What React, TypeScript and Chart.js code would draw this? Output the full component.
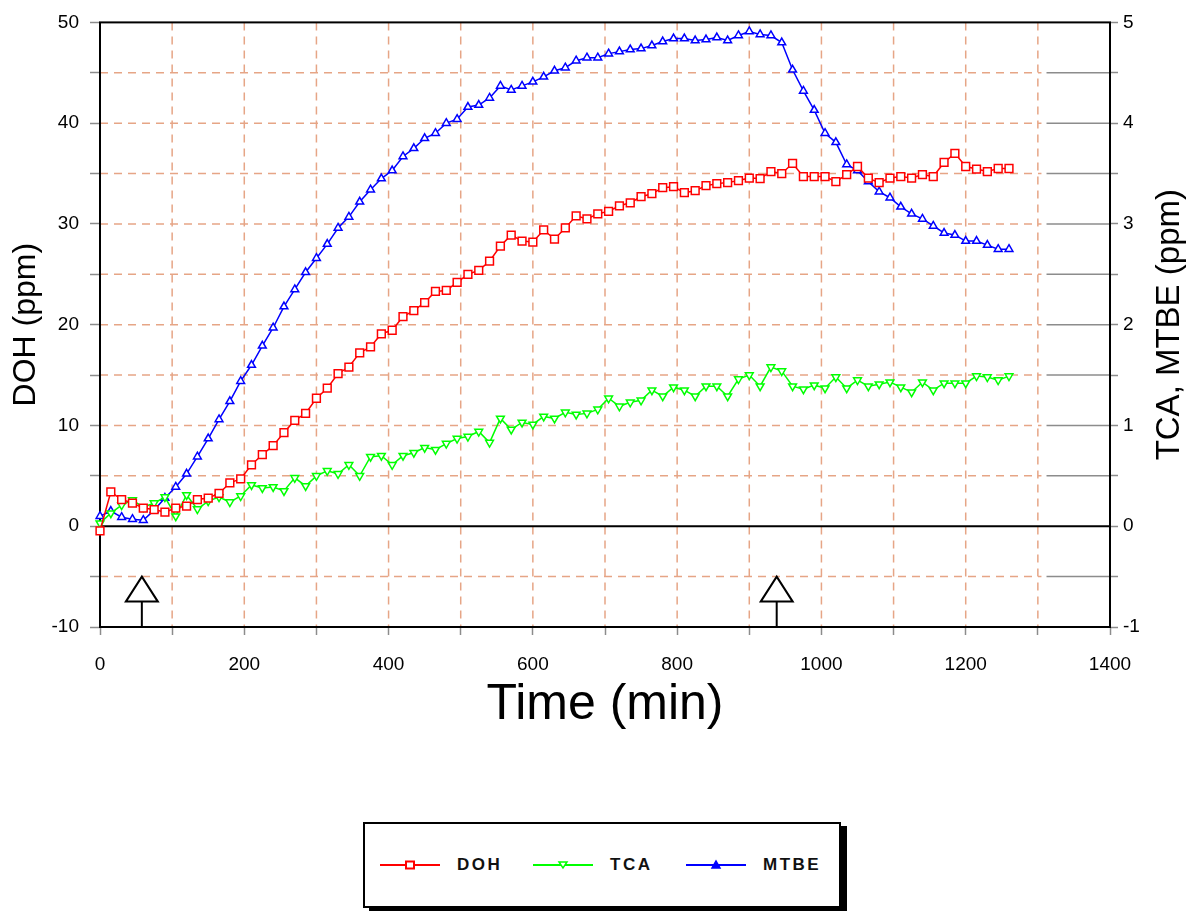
import { useEffect, useRef } from "react";
import { Chart, registerables } from "chart.js";

Chart.register(...registerables);

const FONT = '"Liberation Sans", Arial, sans-serif';
const GRID_COLOR = "#e6a586";
const TICK_COLOR = "#8c8c8c";

// sampling times (min)
const times = [
  0, 15, 30, 45, 60, 75, 90, 105, 120, 135, 150, 165, 180, 195, 210, 225, 240, 255, 270, 285, 300,
  315, 330, 345, 360, 375, 390, 405, 420, 435, 450, 465, 480, 495, 510, 525, 540, 555, 570, 585,
  600, 615, 630, 645, 660, 675, 690, 705, 720, 735, 750, 765, 780, 795, 810, 825, 840, 855, 870,
  885, 900, 915, 930, 945, 960, 975, 990, 1005, 1020, 1035, 1050, 1065, 1080, 1095, 1110, 1125,
  1140, 1155, 1170, 1185, 1200, 1215, 1230, 1245, 1260,
];

// left axis, ppm
const doh = [
  -0.45, 3.4, 2.65, 2.3, 1.8, 1.65, 1.4, 1.8, 2.0, 2.65,
  2.8, 3.25, 4.3, 4.7, 6.1, 7.1, 8.0, 9.3, 10.5, 11.2,
  12.7, 13.7, 15.15, 15.8, 17.2, 17.8, 19.1, 19.45, 20.8, 21.4,
  22.2, 23.3, 23.4, 24.2, 25.0, 25.4, 26.3, 27.8, 28.9, 28.3,
  28.2, 29.4, 28.5, 29.6, 30.8, 30.5, 31.0, 31.25, 31.8, 32.1,
  32.7, 33.0, 33.6, 33.7, 33.1, 33.3, 33.8, 34.0, 34.1, 34.3,
  34.55, 34.5, 35.2, 35.0, 36.0, 34.7, 34.7, 34.7, 34.2, 34.9,
  35.7, 34.55, 34.1, 34.55, 34.7, 34.55, 34.9, 34.7, 36.1, 37.0,
  35.7, 35.45, 35.2, 35.5, 35.5,
];

// right axis, ppm
const tca = [
  0.03, 0.13, 0.21, 0.26, 0.19, 0.23, 0.29, 0.1, 0.31, 0.17,
  0.25, 0.29, 0.24, 0.3, 0.41, 0.38, 0.39, 0.35, 0.48, 0.4,
  0.5, 0.55, 0.52, 0.61, 0.5, 0.69, 0.7, 0.61, 0.7, 0.73,
  0.78, 0.76, 0.82, 0.87, 0.89, 0.94, 0.83, 1.07, 0.96, 1.03,
  1.01, 1.09, 1.07, 1.13, 1.11, 1.12, 1.16, 1.27, 1.19, 1.23,
  1.25, 1.35, 1.29, 1.38, 1.35, 1.29, 1.39, 1.39, 1.29, 1.46,
  1.5, 1.39, 1.58, 1.54, 1.39, 1.36, 1.4, 1.37, 1.48, 1.37,
  1.45, 1.39, 1.41, 1.43, 1.38, 1.33, 1.43, 1.35, 1.42, 1.42,
  1.42, 1.49, 1.48, 1.45, 1.49,
];

const mtbe = [
  0.1, 0.15, 0.09, 0.07, 0.06, 0.16, 0.28, 0.39, 0.52, 0.69,
  0.87, 1.06, 1.24, 1.44, 1.6, 1.79, 1.97, 2.18, 2.35, 2.52,
  2.66, 2.8, 2.96, 3.07, 3.22, 3.34, 3.45, 3.53, 3.67, 3.75,
  3.85, 3.9, 4.0, 4.04, 4.16, 4.18, 4.25, 4.37, 4.33, 4.37,
  4.41, 4.46, 4.52, 4.55, 4.62, 4.65, 4.65, 4.69, 4.71, 4.73,
  4.74, 4.77, 4.81, 4.84, 4.84, 4.82, 4.83, 4.85, 4.82, 4.87,
  4.91, 4.88, 4.87, 4.8, 4.53, 4.32, 4.13, 3.9, 3.81, 3.59,
  3.53, 3.42, 3.32, 3.26, 3.17, 3.1, 3.05, 2.98, 2.91, 2.89,
  2.83, 2.83, 2.79, 2.75, 2.75,
];

// event markers on the time axis
const arrowTimes = [58, 938];

const RIGHT_TITLE = "TCA, MTBE (ppm)";

const series = [
  { label: "DOH", values: doh, color: "#ff0000", axis: "y", marker: "rect", radius: 5.5, rotation: 0 },
  { label: "TCA", values: tca, color: "#00ff00", axis: "y1", marker: "triangle", radius: 4.5, rotation: 180 },
  { label: "MTBE", values: mtbe, color: "#0000ff", axis: "y1", marker: "triangle", radius: 4.5, rotation: 0 },
];

const framePlugin = {
  id: "frame",
  beforeDatasetsDraw(chart: any) {
    const { ctx, chartArea: area, scales } = chart;
    const x = scales.x;
    const y = scales.y;
    const y1 = scales.y1;
    const seg = (ax: number, ay: number, bx: number, by: number) => {
      ctx.beginPath();
      ctx.moveTo(ax, ay);
      ctx.lineTo(bx, by);
      ctx.stroke();
    };
    const gridEnd = x.getPixelForValue(1305);
    const tickStart = x.getPixelForValue(1312);
    ctx.save();
    ctx.lineWidth = 1.5;
    ctx.strokeStyle = GRID_COLOR;
    ctx.setLineDash([8, 6]);
    x.ticks.forEach((t: any) => {
      if (t.value <= x.min || t.value >= x.max) return;
      const px = x.getPixelForValue(t.value);
      seg(px, area.top, px, area.bottom);
    });
    y.ticks.forEach((t: any) => {
      if (t.value <= y.min || t.value >= y.max || t.value === 0) return;
      const py = y.getPixelForValue(t.value);
      seg(area.left, py, gridEnd, py);
    });
    ctx.setLineDash([]);
    ctx.strokeStyle = TICK_COLOR;
    y1.ticks.forEach((t: any) => {
      if (t.value <= y1.min || t.value >= y1.max || t.value === 0) return;
      const py = y1.getPixelForValue(t.value);
      seg(tickStart, py, area.right, py);
    });
    ctx.strokeStyle = "#000";
    ctx.lineWidth = 2;
    const zero = y.getPixelForValue(0);
    seg(area.left, zero, area.right, zero);
    ctx.strokeRect(area.left, area.top, area.right - area.left, area.bottom - area.top);
    ctx.restore();
  },
  afterDatasetsDraw(chart: any) {
    const { ctx, chartArea: area, scales } = chart;
    ctx.save();
    ctx.strokeStyle = "#000";
    ctx.fillStyle = "#fff";
    ctx.lineWidth = 2;
    arrowTimes.forEach((t) => {
      const px = scales.x.getPixelForValue(t);
      const tip = scales.y.getPixelForValue(-5);
      const base = tip + 25;
      ctx.beginPath();
      ctx.moveTo(px, tip);
      ctx.lineTo(px + 16, base);
      ctx.lineTo(px - 16, base);
      ctx.closePath();
      ctx.fill();
      ctx.stroke();
      ctx.beginPath();
      ctx.moveTo(px, base);
      ctx.lineTo(px, area.bottom);
      ctx.stroke();
    });
    // right axis title reads bottom-to-top, like the left one
    ctx.translate(scales.y1.right - 21, (area.top + area.bottom) / 2);
    ctx.rotate(-Math.PI / 2);
    ctx.fillStyle = "#000";
    ctx.font = `33px ${FONT}`;
    ctx.textAlign = "center";
    ctx.textBaseline = "middle";
    ctx.fillText(RIGHT_TITLE, 0, 0);
    ctx.restore();
  },
};

const tickFont = { family: FONT, size: 19 };

function LegendMark({ color, marker, rotation }: { color: string; marker: string; rotation: number }) {
  return (
    <svg width={60} height={14} style={{ display: "block" }}>
      <line x1={0} y1={7} x2={60} y2={7} stroke={color} strokeWidth={2} />
      {marker === "rect" ? (
        <rect x={26} y={3.5} width={8} height={7} fill="#fff" stroke={color} strokeWidth={2} />
      ) : rotation === 180 ? (
        <polygon points="26,4 34,4 30,10" fill="#fff" stroke={color} strokeWidth={1.5} />
      ) : (
        <polygon points="26,10 34,10 30,3" fill={color} stroke={color} strokeWidth={1.5} />
      )}
    </svg>
  );
}

export default function App() {
  const canvasRef = useRef<HTMLCanvasElement>(null);

  useEffect(() => {
    if (!canvasRef.current) return;
    const chart = new Chart(canvasRef.current, {
      type: "line",
      data: {
        datasets: series.map((s) => ({
          label: s.label,
          data: times.map((t, i) => ({ x: t, y: s.values[i] })),
          yAxisID: s.axis,
          borderColor: s.color,
          backgroundColor: "#fff",
          borderWidth: 1.5,
          pointStyle: s.marker,
          pointRadius: s.radius,
          pointRotation: s.rotation,
          pointBorderWidth: 1.5,
          pointBorderColor: s.color,
          pointBackgroundColor: "#fff",
          tension: 0,
          clip: false,
        })),
      },
      options: {
        responsive: false,
        animation: false,
        layout: { padding: { top: 22, left: 0, right: 0, bottom: 0 } },
        plugins: { legend: { display: false }, tooltip: { enabled: false } },
        scales: {
          x: {
            type: "linear",
            min: 0,
            max: 1400,
            afterFit: (s: any) => {
              s.height = 133;
            },
            ticks: {
              stepSize: 100,
              autoSkip: false,
              maxRotation: 0,
              padding: 18,
              color: "#000",
              font: tickFont,
              callback: (v: any) => (Number(v) % 200 === 0 ? String(v) : ""),
            },
            grid: { drawOnChartArea: false, tickLength: 8, tickColor: TICK_COLOR, tickWidth: 1.5 },
            border: { display: false },
            title: {
              display: true,
              text: "Time (min)",
              color: "#000",
              font: { family: FONT, size: 50 },
              padding: { top: 0, bottom: 25 },
            },
          },
          y: {
            position: "left",
            min: -10,
            max: 50,
            afterFit: (s: any) => {
              s.width = 100;
            },
            ticks: {
              stepSize: 5,
              padding: 11,
              color: "#000",
              font: tickFont,
              callback: (v: any) => (Number(v) % 10 === 0 ? String(v) : ""),
            },
            grid: { drawOnChartArea: false, tickLength: 10, tickColor: TICK_COLOR, tickWidth: 1.5 },
            border: { display: false },
            title: {
              display: true,
              text: "DOH (ppm)",
              color: "#000",
              font: { family: FONT, size: 32 },
              padding: { top: 7, bottom: 0 },
            },
          },
          y1: {
            position: "right",
            min: -1,
            max: 5,
            afterFit: (s: any) => {
              s.width = 81;
            },
            ticks: {
              stepSize: 0.5,
              padding: 5,
              color: "#000",
              font: tickFont,
              callback: (v: any) => (Number.isInteger(Number(v)) ? String(v) : ""),
            },
            grid: { drawOnChartArea: false, tickLength: 8, tickColor: TICK_COLOR, tickWidth: 1.5 },
            border: { display: false },
            title: { display: false },
          },
        },
      },
      plugins: [framePlugin],
    } as any);
    return () => chart.destroy();
  }, []);

  return (
    <div style={{ position: "absolute", left: 0, top: 0, width: 1191, height: 911, background: "#fff" }}>
      <canvas ref={canvasRef} width={1191} height={760} style={{ display: "block" }} />
      <div
        style={{
          position: "absolute",
          left: 363,
          top: 822,
          width: 474,
          height: 82,
          border: "2px solid #000",
          boxShadow: "6px 4px 0 #000",
          background: "#fff",
        }}
      >
        {series.map((s, i) => (
          <div
            key={s.label}
            style={{
              position: "absolute",
              left: 15 + i * 153,
              top: 0,
              height: 82,
              display: "flex",
              alignItems: "center",
            }}
          >
            <LegendMark color={s.color} marker={s.marker} rotation={s.rotation} />
            <span
              style={{
                marginLeft: 17,
                fontFamily: FONT,
                fontSize: 17,
                fontWeight: "bold",
                letterSpacing: 2.5,
                color: "#111",
              }}
            >
              {s.label}
            </span>
          </div>
        ))}
      </div>
    </div>
  );
}
